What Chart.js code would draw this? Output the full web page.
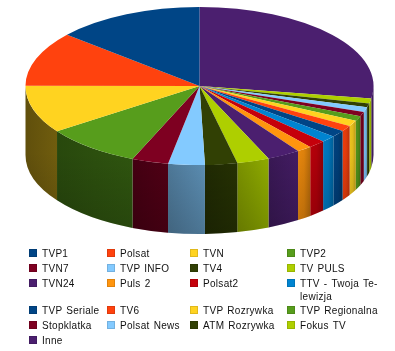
<!DOCTYPE html>
<html><head><meta charset="utf-8">
<script src="https://cdn.jsdelivr.net/npm/chart.js@4"></script>
<style>
html,body{margin:0;padding:0;background:#fff;width:395px;height:351px;overflow:hidden}
#c{position:absolute;left:0;top:0}
#lg{position:absolute;left:29px;top:246.8px;display:grid;grid-template-columns:78px 83px 97px 90px;grid-template-rows:15px 15px 27.5px 15px 15px 15px;font:10px "Liberation Sans",Arial,sans-serif;letter-spacing:.3px;word-spacing:1px;color:#111;line-height:13.5px}
#lg div{position:relative;padding:0 0 0 13px;white-space:pre}
#lg i{position:absolute;left:0;top:2px;width:8px;height:8px}
</style></head><body>
<canvas id="c" width="395" height="351"></canvas>
<div id="lg"></div>
<script>
const categories=["TVP1","Polsat","TVN","TVP2","TVN7","TVP INFO","TV4","TV PULS","TVN24","Puls 2","Polsat2","TTV - Twoja Te-\nlewizja","TVP Seriale","TV6","TVP Rozrywka","TVP Regionalna","Stopklatka","Polsat News","ATM Rozrywka","Fokus TV","Inne"];
const values=[13.8,11.2,9.8,9.0,3.4,3.4,3.0,3.0,3.1,1.4,1.6,1.4,1.4,1.2,1.2,1.0,0.9,1.0,0.8,1.0,27.6];
const colors=["#004586","#ff420e","#ffd320","#579d1c","#7e0021","#83caff","#314004","#aecf00","#4b1f6f","#ff950e","#c5000b","#0084d1","#004586","#ff420e","#ffd320","#579d1c","#7e0021","#83caff","#314004","#aecf00","#4b1f6f"];

const CX_TOP=86, RATIO=79/174, DEPTH=69;
function shade(hex,f){const n=parseInt(hex.slice(1),16);const c=s=>Math.min(255,Math.round(((n>>s)&255)*f));return `rgb(${c(16)},${c(8)},${c(0)})`;}
const squash={id:'squash',
 beforeDatasetDraw(chart,args){
  const ctx=chart.ctx, arcs=chart.getDatasetMeta(0).data;
  const a0=arcs[0], ry=a0.outerRadius*RATIO, rx=a0.outerRadius, x=a0.x;
  const cols=chart.data.datasets[0].backgroundColor;
  arcs.forEach((a,i)=>{
   let s=a.startAngle, e=a.endAngle;
   const two=Math.PI*2;
   while(s<-1e-6){s+=two;e+=two;}
   const ranges=[[Math.max(s,0),Math.min(e,Math.PI)],[Math.max(s,two),Math.min(e,two+Math.PI)]];
   ranges.forEach(([p,q])=>{
    if(q<=p) return;
    const xa=x+rx*Math.cos(p), xb=x+rx*Math.cos(q), xl=Math.min(xa,xb), xr=Math.max(xa,xb);
    const mid=(xl+xr)/2;
    const f=Math.min(.88,.38+.5*(mid-25)/290);
    const g=ctx.createLinearGradient(xl,0,xr,0);
    const narrow=xr-xl<25;
    g.addColorStop(0,shade(cols[i],f*(narrow?1.05:.92)));
    g.addColorStop(.5,shade(cols[i],f));
    g.addColorStop(1,shade(cols[i],f*(narrow?.82:1.08)));
    ctx.save();
    ctx.beginPath();
    ctx.ellipse(x,CX_TOP,rx,ry,0,p,q,false);
    ctx.ellipse(x,CX_TOP+DEPTH,rx,ry,0,q,p,true);
    ctx.closePath();
    ctx.fillStyle=g;ctx.fill();
    const v=ctx.createLinearGradient(0,CX_TOP,0,CX_TOP+DEPTH+ry);
    v.addColorStop(.45,'rgba(0,0,0,0)');v.addColorStop(1,'rgba(0,0,0,.18)');
    ctx.fillStyle=v;ctx.fill();
    ctx.restore();
   });
  });
  ctx.save();
  ctx.translate(0,CX_TOP);ctx.scale(1,RATIO);ctx.translate(0,-a0.y);
 },
 afterDatasetDraw(chart){chart.ctx.restore();}
};
new Chart(document.getElementById('c'),{
 type:'pie',
 data:{labels:[...categories].reverse(),datasets:[{data:[...values].reverse(),backgroundColor:[...colors].reverse(),borderWidth:0,clip:false,hoverOffset:0}]},
 options:{responsive:false,animation:false,events:[],layout:{padding:{left:25.5,right:21.5,top:1.5,bottom:1.5}},plugins:{legend:{display:false},tooltip:{enabled:false}}},
 plugins:[squash]
});
const lg=document.getElementById('lg');
categories.forEach((t,i)=>{const d=document.createElement('div');d.textContent=t;const s=document.createElement('i');s.style.background=colors[i];s.style.boxShadow='inset 0 0 0 1px rgba(0,0,0,.12)';d.appendChild(s);lg.appendChild(d);});
</script></body></html>
